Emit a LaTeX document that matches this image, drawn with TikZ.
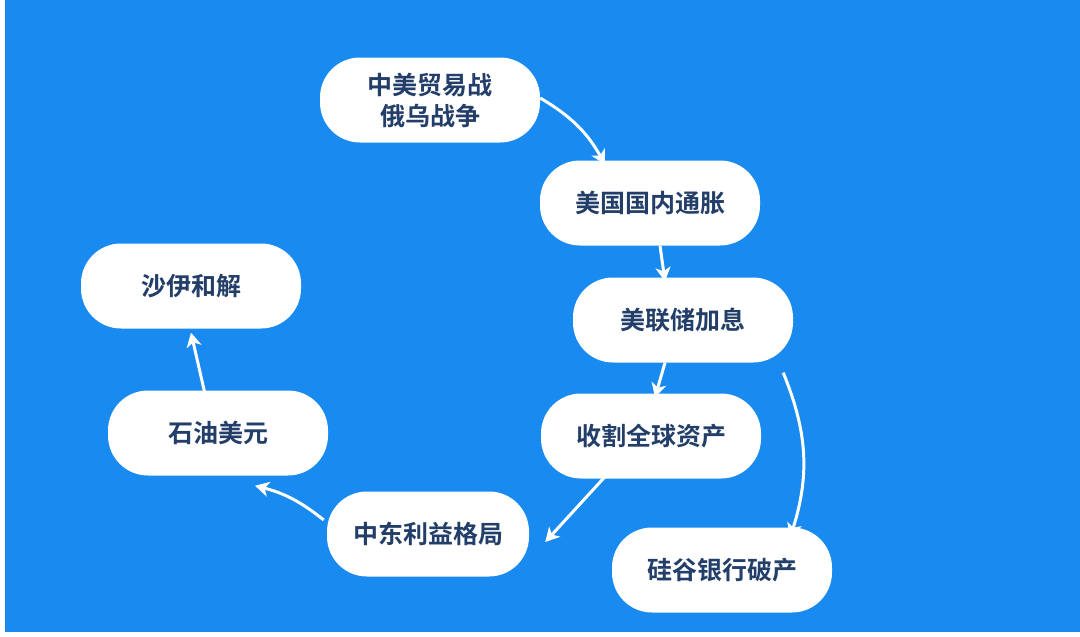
\documentclass[tikz,border=0pt]{standalone}
\usepackage{fontspec}
\newfontfamily\cjk{Noto Sans CJK SC}[BoldFont={* Bold}]
\usetikzlibrary{arrows.meta}
\definecolor{bg}{RGB}{24,138,240}
\definecolor{txt}{RGB}{34,62,105}
\begin{document}
\begin{tikzpicture}[x=1pt,y=-1pt,
  box/.style={fill=white,rounded corners=40pt,minimum width=220pt,minimum height=85pt,
    font=\cjk\bfseries\fontsize{25}{31}\selectfont,text=txt,align=center,inner sep=0pt},
  arr/.style={white,line width=3pt,-{Stealth[length=14pt,width=15pt,inset=4pt]}}]
\useasboundingbox (0,0) rectangle (1080,637);
\fill[white] (0,0) rectangle (1080,637);
\fill[bg] (5,0) rectangle (1080,632);
\node[box] (n1) at (430,100) {中美贸易战\\俄乌战争};
\node[box] (n2) at (650,203) {美国国内通胀};
\node[box] (n3) at (683,320) {美联储加息};
\node[box] (n4) at (651,436) {收割全球资产};
\node[box] (n5) at (722,570) {硅谷银行破产};
\node[box,minimum width=202pt] (n6) at (428,534) {中东利益格局};
\node[box] (n7) at (218,433) {石油美元};
\node[box] (n8) at (191,286) {沙伊和解};
\draw[arr] ([yshift=2pt]n1.east) to[bend left=15] ([xshift=-45pt,yshift=-4pt]n2.north);
\draw[arr] ([xshift=10pt]n2.south) -- ([xshift=-18pt,yshift=-4pt]n3.north);
\draw[arr] ([xshift=-18pt]n3.south) -- ([xshift=4pt,yshift=-4pt]n4.north);
\draw[arr] ([xshift=-10pt,yshift=-10pt]n3.south east) to[bend left=20] ([xshift=-42pt,yshift=-10pt]n5.north east);
\draw[arr] ([xshift=-46pt,yshift=2pt]n4.south) -- ([xshift=16pt,yshift=-8pt]n6.east);
\draw[arr] ([xshift=-3pt,yshift=14pt]n6.west) to[bend right=12] ([xshift=37pt,yshift=-10pt]n7.south);
\draw[arr] ([xshift=-12pt,yshift=-8pt]n7.north) -- ([yshift=-4pt]n8.south);
\end{tikzpicture}
\end{document}
